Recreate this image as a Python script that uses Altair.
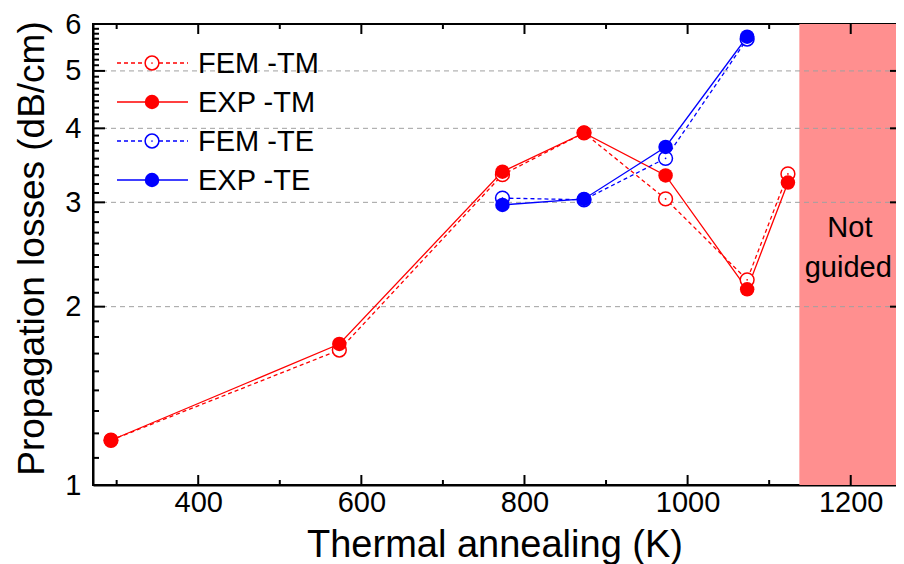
import altair as alt
import pandas as pd

# ---------------- data ----------------
temps_TM = [293, 573, 773, 873, 973, 1073, 1123]
fem_TM = [1.19, 1.69, 3.34, 3.93, 3.04, 2.22, 3.35]
exp_TM = [1.19, 1.73, 3.38, 3.93, 3.33, 2.14, 3.24]
temps_TE = [773, 873, 973, 1073]
fem_TE = [3.05, 3.03, 3.56, 5.66]
exp_TE = [2.97, 3.04, 3.72, 5.71]

x_tick_labels = [400, 600, 800, 1000, 1200]
x_minor = [300, 500, 700, 900, 1100]
y_tick_labels = [1, 2, 3, 4, 5, 6]
grid_vals = [2, 3, 4, 5]
x_domain = [271, 1255.5]
shade_range = [1137, 1255.5]
legend_labels = ["FEM -TM", "EXP -TM", "FEM -TE", "EXP -TE"]
note_lines = ["Not", "guided"]

RED = "#FF0000"
BLUE = "#0000FF"
FONT = "Liberation Sans"
W, H = 803, 461

x_scale = alt.Scale(domain=x_domain, nice=False, zero=False)
y_scale = alt.Scale(type="log", domain=[1, 6], nice=False)
x_axis = alt.Axis(values=x_tick_labels, ticks=False, grid=False, labelFontSize=29,
                  labelPadding=3, labelFont=FONT, labelColor="black", labelFlush=False,
                  format="d", domainColor="black", domainWidth=2,
                  title="Thermal annealing (K)", titleFontSize=38, titleFont=FONT,
                  titleFontWeight="normal", titleColor="black",
                  titleBaseline="alphabetic", titleY=71)
y_axis = alt.Axis(values=y_tick_labels, ticks=False, grid=False, labelFontSize=29,
                  labelPadding=12, labelFont=FONT, labelColor="black", labelFlush=False,
                  format="~g", domainColor="black", domainWidth=2,
                  title="Propagation losses (dB/cm)", titleFontSize=37, titleFont=FONT,
                  titleFontWeight="normal", titleColor="black",
                  titleBaseline="alphabetic", titleX=-50, titleY=224)


def X(field):
    return alt.X(field, type="quantitative", scale=x_scale, axis=x_axis)


def Y(field):
    return alt.Y(field, type="quantitative", scale=y_scale, axis=y_axis)


def series_df(temps, vals):
    return pd.DataFrame({"T": temps, "L": vals})


df_fem_tm = series_df(temps_TM, fem_TM)
df_exp_tm = series_df(temps_TM, exp_TM)
df_fem_te = series_df(temps_TE, fem_TE)
df_exp_te = series_df(temps_TE, exp_TE)

layers = []

# shaded "not guided" region
shade = alt.Chart(pd.DataFrame({"a": [shade_range[0]], "b": [shade_range[1]]})).mark_rect(
    color="#FF8F8F").encode(x=X("a"), x2="b", y=alt.value(0), y2=alt.value(H))
layers.append(shade)

# dashed grid lines
grid = alt.Chart(pd.DataFrame({"g": grid_vals})).mark_rule(
    color="#A0A0A0", strokeDash=[5, 4], strokeWidth=1).encode(
    y=Y("g"), x=alt.value(0), x2=alt.value(W))
layers.append(grid)

# lines
for df, col, dashed in [(df_fem_tm, RED, True), (df_exp_tm, RED, False),
                        (df_fem_te, BLUE, True), (df_exp_te, BLUE, False)]:
    kw = dict(color=col, strokeWidth=1.3)
    if dashed:
        kw["strokeDash"] = [4, 3]
    layers.append(alt.Chart(df).mark_line(**kw).encode(x=X("T"), y=Y("L")))

# open circles (FEM) with center dot
for df, col in [(df_fem_tm, RED), (df_fem_te, BLUE)]:
    layers.append(alt.Chart(df).mark_point(shape="circle", filled=True, fill="white",
                                           stroke=col, strokeWidth=1.5, size=190, opacity=1)
                  .encode(x=X("T"), y=Y("L")))
    layers.append(alt.Chart(df).mark_circle(color=col, size=3, opacity=1)
                  .encode(x=X("T"), y=Y("L")))

# filled circles (EXP)
for df, col in [(df_exp_tm, RED), (df_exp_te, BLUE)]:
    layers.append(alt.Chart(df).mark_circle(color=col, size=210, opacity=1)
                  .encode(x=X("T"), y=Y("L")))

# "Not guided" annotation
txt = alt.Chart(pd.DataFrame({"t": note_lines, "x": [1199, 1197], "yy": [213, 253]})).mark_text(
    font=FONT, fontSize=29, color="black", align="center", baseline="alphabetic").encode(
    x=X("x"), y=alt.Y("yy:Q", scale=None), text="t:N")
layers.append(txt)

# inward ticks
tk = dict(color="black", strokeWidth=2)
layers.append(alt.Chart(pd.DataFrame({"v": x_tick_labels})).mark_rule(**tk).encode(
    x=X("v"), y=alt.value(H), y2=alt.value(H - 10)))
layers.append(alt.Chart(pd.DataFrame({"v": x_minor})).mark_rule(**tk).encode(
    x=X("v"), y=alt.value(H), y2=alt.value(H - 5)))
layers.append(alt.Chart(pd.DataFrame({"v": x_tick_labels})).mark_rule(**tk).encode(
    x=X("v"), y=alt.value(0), y2=alt.value(10)))
layers.append(alt.Chart(pd.DataFrame({"v": x_minor})).mark_rule(**tk).encode(
    x=X("v"), y=alt.value(0), y2=alt.value(5)))

y_minor = [a + k / 9 for a in y_tick_labels[:-1] for k in range(1, 9)]
layers.append(alt.Chart(pd.DataFrame({"v": y_tick_labels})).mark_rule(**tk).encode(
    y=Y("v"), x=alt.value(0), x2=alt.value(12)))
layers.append(alt.Chart(pd.DataFrame({"v": y_minor})).mark_rule(**tk).encode(
    y=Y("v"), x=alt.value(0), x2=alt.value(6)))
layers.append(alt.Chart(pd.DataFrame({"v": grid_vals})).mark_rule(**tk).encode(
    y=Y("v"), x=alt.value(W), x2=alt.value(W - 6)))

# manual legend
leg_y0, leg_dy = 39, 39
for i, lab in enumerate(legend_labels):
    col = RED if "TM" in lab else BLUE
    fem = lab.startswith("FEM")
    yy = leg_y0 + i * leg_dy
    d = pd.DataFrame({"lab": [lab]})
    kw = dict(color=col, strokeWidth=1.3)
    if fem:
        kw["strokeDash"] = [4, 3]
    layers.append(alt.Chart(d).mark_rule(**kw).encode(
        x=alt.value(24), x2=alt.value(95), y=alt.value(yy)))
    if fem:
        layers.append(alt.Chart(d).mark_point(shape="circle", filled=True, fill="white",
                                              stroke=col, strokeWidth=1.5, size=190, opacity=1)
                      .encode(x=alt.value(59), y=alt.value(yy)))
        layers.append(alt.Chart(d).mark_circle(color=col, size=3, opacity=1)
                      .encode(x=alt.value(59), y=alt.value(yy)))
    else:
        layers.append(alt.Chart(d).mark_circle(color=col, size=210, opacity=1)
                      .encode(x=alt.value(59), y=alt.value(yy)))
    layers.append(alt.Chart(d).mark_text(font=FONT, fontSize=29, color="black",
                                         align="left", baseline="middle", dy=1)
                  .encode(x=alt.value(105), y=alt.value(yy), text="lab:N"))

chart = alt.layer(*layers).properties(
    width=W, height=H,
    padding={"left": 85, "top": 16, "right": 0, "bottom": 79},
    autosize=alt.AutoSizeParams(type="none"),
    background="white",
).configure_view(stroke="black", strokeWidth=2)

chart.save("out.html", embed_options={"renderer": "svg", "actions": False})
